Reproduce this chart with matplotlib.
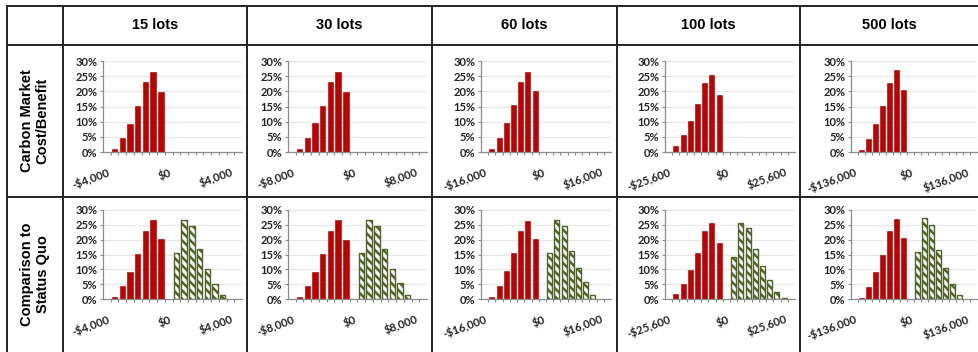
import numpy as np
import matplotlib
matplotlib.use("Agg")
import matplotlib.pyplot as plt
from matplotlib.lines import Line2D
from matplotlib.ticker import FixedLocator, FuncFormatter

W, H = 979, 352

lots = ["15 lots", "30 lots", "60 lots", "100 lots", "500 lots"]
bin_width = [500, 1000, 2000, 3200, 17000]
row_titles = ["Carbon Market\nCost/Benefit", "Comparison to\nStatus Quo"]

# carbon market cost/benefit, % of runs in the 7 bins left of $0
cb_15 = [1.1, 4.7, 9.2, 15.3, 23.0, 26.5, 19.9]
cb_30 = [1.0, 4.7, 9.5, 15.3, 23.0, 26.5, 19.7]
cb_60 = [1.0, 4.5, 9.5, 15.5, 23.2, 26.4, 20.1]
cb_100 = [2.0, 5.6, 10.1, 15.7, 22.8, 25.4, 18.7]
cb_500 = [0.6, 4.4, 9.2, 15.1, 22.9, 27.1, 20.6]

# comparison to status quo: losses (left of $0) and gains (right of $0)
sq_neg_15 = [0.6, 4.3, 9.2, 15.3, 22.8, 26.5, 20.1]
sq_neg_30 = [0.7, 4.5, 9.2, 15.3, 23.0, 26.5, 20.0]
sq_neg_60 = [0.8, 4.4, 9.4, 15.6, 22.9, 26.4, 20.1]
sq_neg_100 = [1.6, 5.1, 9.8, 15.6, 22.9, 25.7, 18.8]
sq_neg_500 = [0.5, 4.0, 9.0, 15.0, 22.8, 27.1, 20.4]

sq_pos_15 = [15.4, 26.7, 24.5, 16.8, 10.1, 5.2, 1.3]
sq_pos_30 = [15.5, 26.5, 24.7, 16.7, 10.2, 5.4, 1.4]
sq_pos_60 = [15.4, 26.6, 24.6, 16.3, 10.4, 5.6, 1.3]
sq_pos_100 = [14.0, 25.5, 24.0, 16.9, 11.2, 6.4, 2.2, 0.5]
sq_pos_500 = [15.9, 27.4, 24.8, 16.6, 10.3, 5.2, 1.2]

cost_benefit = [cb_15, cb_30, cb_60, cb_100, cb_500]
status_neg = [sq_neg_15, sq_neg_30, sq_neg_60, sq_neg_100, sq_neg_500]
status_pos = [sq_pos_15, sq_pos_30, sq_pos_60, sq_pos_100, sq_pos_500]

RED = "#C00000"
GREEN = "#4F6228"
GRAY = "#8C8C8C"

plt.rcParams["hatch.linewidth"] = 1.8

fig = plt.figure(figsize=(W / 100, H / 100), dpi=100)


def px_rect(x0, y_top, x1, y_bot):
    return [x0 / W, 1 - y_bot / H, (x1 - x0) / W, (y_bot - y_top) / H]


def hline(y, x0, x1):
    fig.add_artist(Line2D([x0 / W, x1 / W], [1 - y / H, 1 - y / H],
                          color="#222222", lw=1.4))


def vline(x, y0, y1):
    fig.add_artist(Line2D([x / W, x / W], [1 - y0 / H, 1 - y1 / H],
                          color="#222222", lw=1.4))


# table grid
col_edges = [7, 63, 247, 432, 617, 800]
hline(6, 7, W)
hline(45, 7, W)
hline(197, 7, W)
for x in col_edges:
    vline(x, 6, H)

# headers
for i, name in enumerate(lots):
    x0 = col_edges[i + 1]
    x1 = col_edges[i + 2] if i + 2 < len(col_edges) else W
    fig.text((x0 + x1) / 2 / W, 1 - 25 / H, name, ha="center", va="center",
             fontsize=10.5, fontweight="bold", family="Liberation Sans")
for r, title in enumerate(row_titles):
    yc = [121, 274][r]
    fig.text(35 / W, 1 - yc / H, title, ha="center", va="center",
             rotation=90, fontsize=10.5, fontweight="bold",
             family="Liberation Sans", linespacing=1.1)

ax_left = [103, 288, 481, 665, 851]
ax_right = [242, 427, 611, 795, 977]
row_span = [(61, 152), (210, 299)]


def money(v):
    if v == 0:
        return "$0"
    s = f"${abs(int(v)):,}"
    return "-" + s if v < 0 else s


def setup(ax, step):
    lo = -8 * step
    centers = lo + step * np.arange(18)
    ax.set_xlim(lo - step / 2, centers[-1] + step / 2)
    ax.set_ylim(0, 30)
    ax.set_yticks(np.arange(0, 31, 5))
    ax.yaxis.set_major_formatter(FuncFormatter(lambda v, p: f"{int(v)}%"))
    ax.grid(axis="y", color="#E6E6E6", lw=0.8)
    ax.set_axisbelow(True)
    for s in ["top", "right"]:
        ax.spines[s].set_visible(False)
    for s in ["left", "bottom"]:
        ax.spines[s].set_color(GRAY)
        ax.spines[s].set_linewidth(0.9)
    ticks = [lo, 0, 8 * step]
    ax.set_xticks(ticks)
    ax.set_xticklabels([money(t) for t in ticks], rotation=20, ha="right",
                       rotation_mode="anchor")
    ax.xaxis.set_minor_locator(FixedLocator(centers[:-1] + step / 2))
    ax.tick_params(axis="x", which="major", length=0, pad=10)
    ax.tick_params(axis="x", which="minor", length=2.5, color=GRAY, width=0.8)
    ax.tick_params(axis="y", length=2.5, color=GRAY, width=0.8, pad=1.5)
    for lab in ax.get_xticklabels() + ax.get_yticklabels():
        lab.set_fontsize(8)
        lab.set_fontweight("bold")
        lab.set_family("Lato")
        lab.set_color("#222222")
    return centers


for c in range(5):
    step = bin_width[c]
    for r in range(2):
        y0, y1 = row_span[r]
        ax = fig.add_axes(px_rect(ax_left[c], y0, ax_right[c], y1))
        centers = setup(ax, step)
        neg = cost_benefit[c] if r == 0 else status_neg[c]
        ax.bar(centers[1:1 + len(neg)], neg, width=0.7 * step,
               color=RED, edgecolor="#9A0000", lw=0.4)
        if r == 1:
            pos = status_pos[c]
            ax.bar(centers[9:9 + len(pos)], pos, width=0.7 * step,
                   facecolor="white", edgecolor=GREEN, hatch="\\\\\\\\",
                   lw=1.0)

fig.savefig("out.png", dpi=100)
